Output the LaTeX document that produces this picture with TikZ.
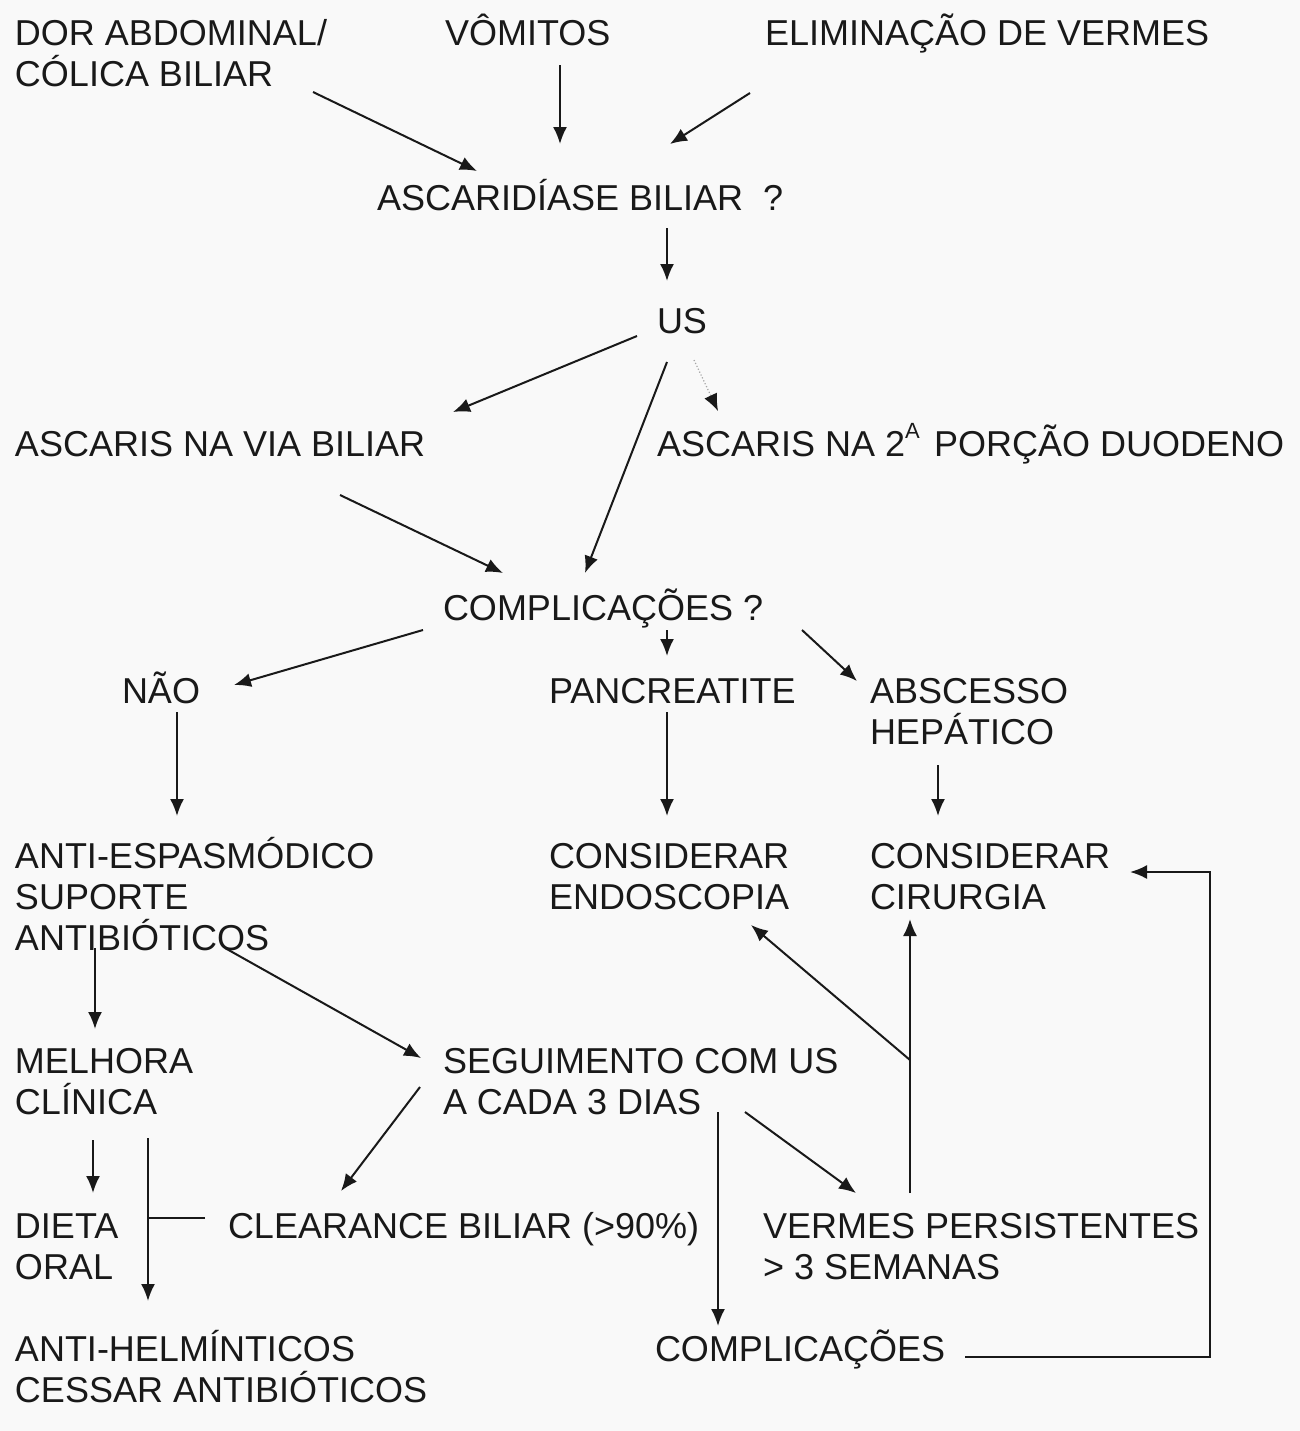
\documentclass[tikz,border=0pt]{standalone}
\usepackage{fontspec}
\setmainfont{Liberation Sans}
\usetikzlibrary{arrows.meta}
\definecolor{bg}{RGB}{249,249,249}
\definecolor{ink}{RGB}{25,25,25}
\begin{document}
\begin{tikzpicture}[x=0.5pt,y=-0.5pt,
  lbl/.style={anchor=base west,inner sep=0pt,outer sep=0pt,align=left,text=ink,
    font=\fontsize{18pt}{20.5pt}\selectfont},
  conn/.style={draw=ink,line width=1pt,-{Latex[length=8.5pt,width=7pt]}},
  plain/.style={draw=ink,line width=1pt},
  faint/.style={draw=gray!70,line width=0.6pt,densely dotted,-{Latex[length=8.5pt,width=7pt,color=ink]}}]
\fill[bg] (0,0) rectangle (1300,1431);
\useasboundingbox (0,0) rectangle (1300,1431);
% nodes (anchor = baseline of the last line)
\node[lbl] (dor) at (15,86) {DOR ABDOMINAL/\\CÓLICA BILIAR};
\node[lbl] (vom) at (445,45) {VÔMITOS};
\node[lbl] (elim) at (765,45) {ELIMINAÇÃO DE VERMES};
\node[lbl] (asc) at (377,210) {ASCARIDÍASE BILIAR\ \ ?};
\node[lbl] (us) at (657,333) {US};
\node[lbl] (via) at (15,456) {ASCARIS NA VIA BILIAR};
\node[lbl] (duo) at (657,456) {ASCARIS NA 2\raisebox{0.5em}{\fontsize{11pt}{11pt}\selectfont A}\hspace{0.12em} PORÇÃO DUODENO};
\node[lbl] (comp) at (443,620) {COMPLICAÇÕES ?};
\node[lbl] (nao) at (122,703) {NÃO};
\node[lbl] (panc) at (549,703) {PANCREATITE};
\node[lbl] (absc) at (870,744) {ABSCESSO\\HEPÁTICO};
\node[lbl] (anti) at (15,950) {ANTI-ESPASMÓDICO\\SUPORTE\\ANTIBIÓTICOS};
\node[lbl] (endo) at (549,909) {CONSIDERAR\\ENDOSCOPIA};
\node[lbl] (cir) at (870,909) {CONSIDERAR\\CIRURGIA};
\node[lbl] (mel) at (15,1114) {MELHORA\\CLÍNICA};
\node[lbl] (seg) at (443,1114) {SEGUIMENTO COM US\\A CADA 3 DIAS};
\node[lbl] (die) at (15,1279) {DIETA\\ORAL};
\node[lbl] (clr) at (228,1238) {CLEARANCE BILIAR (>90\%)};
\node[lbl] (ver) at (763,1279) {VERMES PERSISTENTES\\> 3 SEMANAS};
\node[lbl] (helm) at (15,1402) {ANTI-HELMÍNTICOS\\CESSAR ANTIBIÓTICOS};
\node[lbl] (comp2) at (655,1361) {COMPLICAÇÕES};
% connector end points
\coordinate (dorA) at (313,92);   \coordinate (ascA) at (477,171);
\coordinate (vomA) at (560,65);   \coordinate (ascB) at (560,144);
\coordinate (elimA) at (750,93);  \coordinate (ascC) at (670,144);
\coordinate (ascD) at (667,228);  \coordinate (usA) at (667,281);
\coordinate (usB) at (637,336);   \coordinate (viaA) at (453,412);
\coordinate (usC) at (667,362);   \coordinate (compA) at (585,573);
\coordinate (usD) at (694,360);   \coordinate (duoA) at (718,411);
\coordinate (viaB) at (340,495);  \coordinate (compB) at (503,573);
\coordinate (compC) at (423,630); \coordinate (naoA) at (234,685);
\coordinate (compD) at (667,630); \coordinate (pancA) at (667,656);
\coordinate (compE) at (802,630); \coordinate (abscA) at (857,681);
\coordinate (naoB) at (177,712);  \coordinate (antiA) at (177,816);
\coordinate (pancB) at (667,712); \coordinate (endoA) at (667,816);
\coordinate (abscB) at (938,765); \coordinate (cirA) at (938,816);
\coordinate (antiB) at (95,948);  \coordinate (melA) at (95,1029);
\coordinate (antiC) at (225,948); \coordinate (segA) at (421,1058);
\coordinate (segB) at (420,1087); \coordinate (clrA) at (341,1191);
\coordinate (segC) at (745,1112); \coordinate (verA) at (856,1193);
\coordinate (segD) at (718,1112); \coordinate (comp2A) at (718,1326);
\coordinate (melB) at (93,1140);  \coordinate (dieA) at (93,1193);
\coordinate (melC) at (148,1138); \coordinate (helmA) at (148,1301);
\coordinate (clrB) at (205,1218); \coordinate (brk) at (148,1218);
\coordinate (verB) at (910,1193); \coordinate (cirB) at (910,919);
\coordinate (verC) at (910,1060); \coordinate (endoB) at (751,925);
\coordinate (comp2B) at (965,1357); \coordinate (cirC) at (1130,872);
% connectors
\draw[conn] (dorA) -- (ascA);
\draw[conn] (vomA) -- (ascB);
\draw[conn] (elimA) -- (ascC);
\draw[conn] (ascD) -- (usA);
\draw[conn] (usB) -- (viaA);
\draw[conn] (usC) -- (compA);
\draw[faint] (usD) -- (duoA);
\draw[conn] (viaB) -- (compB);
\draw[conn] (compC) -- (naoA);
\draw[conn] (compD) -- (pancA);
\draw[conn] (compE) -- (abscA);
\draw[conn] (naoB) -- (antiA);
\draw[conn] (pancB) -- (endoA);
\draw[conn] (abscB) -- (cirA);
\draw[conn] (antiB) -- (melA);
\draw[conn] (antiC) -- (segA);
\draw[conn] (segB) -- (clrA);
\draw[conn] (segC) -- (verA);
\draw[conn] (segD) -- (comp2A);
\draw[conn] (melB) -- (dieA);
\draw[conn] (melC) -- (helmA);
\draw[plain] (clrB) -- (brk);
\draw[conn] (verB) -- (cirB);
\draw[conn] (verC) -- (endoB);
\draw[conn] (comp2B) -- (1210,1357) -- (1210,872) -- (cirC);
\end{tikzpicture}
\end{document}
